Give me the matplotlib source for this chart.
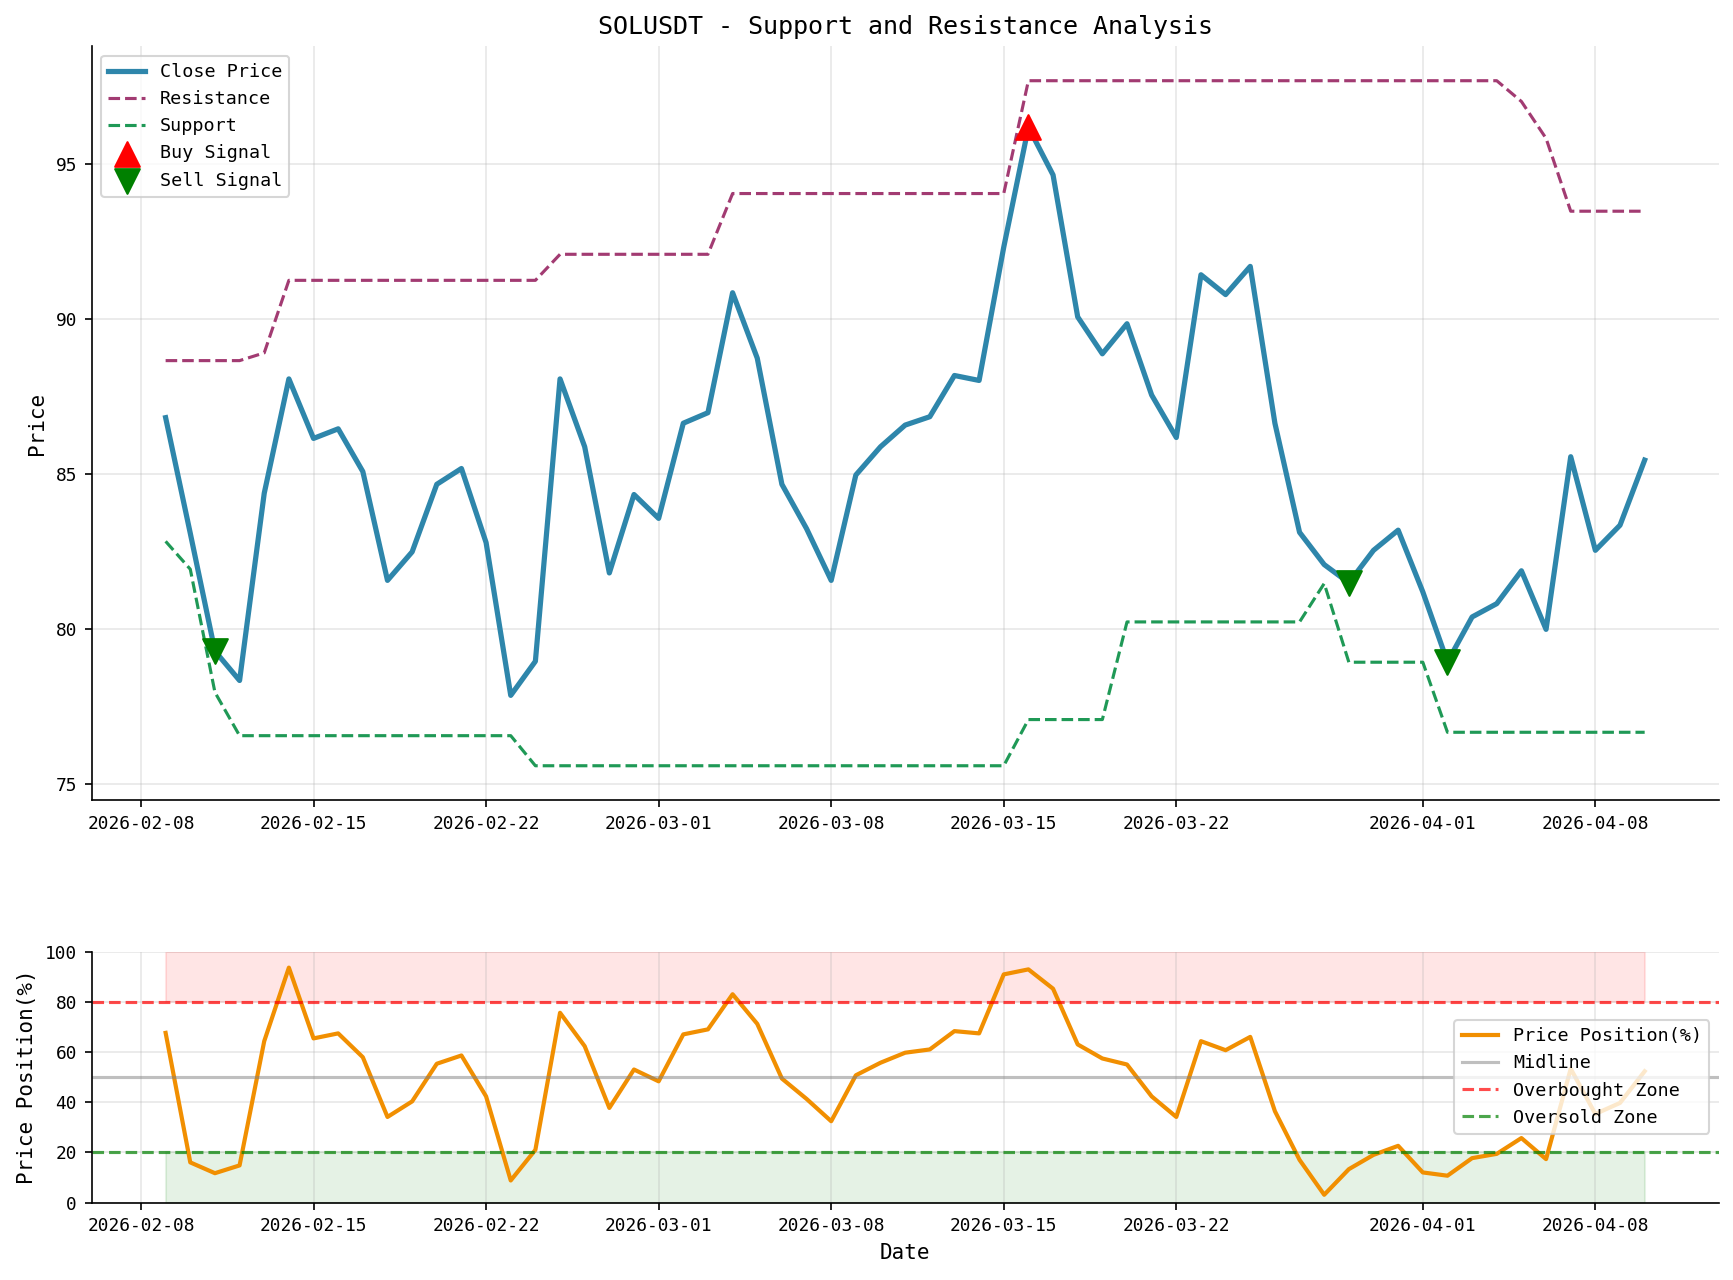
import pandas as pd
import matplotlib.pyplot as plt

plt.rcParams['font.family'] = ['DejaVu Sans Mono']

# Dados (61 dias, 2026-02-09 a 2026-04-10)
dates = pd.date_range('2026-02-09', '2026-04-10', freq='D')

close = [86.83, 83.10, 79.30, 78.35, 84.39, 88.08, 86.16, 86.47, 85.09, 81.58,
         82.50, 84.68, 85.19, 82.80, 77.87, 78.97, 88.08, 85.89, 81.82, 84.35,
         83.58, 86.65, 86.99, 90.86, 88.75, 84.68, 83.25, 81.58, 84.98, 85.89,
         86.59, 86.86, 88.19, 88.03, 92.33, 96.20, 94.66, 90.08, 88.89, 89.86,
         87.56, 86.19, 91.44, 90.80, 91.71, 86.65, 83.13, 82.09, 81.50, 82.55,
         83.20, 81.21, 78.95, 80.40, 80.83, 81.89, 80.00, 85.57, 82.55, 83.36,
         85.46]

resistance = [88.67, 88.67, 88.67, 88.67, 88.92, 91.26, 91.26, 91.26, 91.26, 91.26,
              91.26, 91.26, 91.26, 91.26, 91.26, 91.26, 92.10, 92.10, 92.10, 92.10,
              92.10, 92.10, 92.10, 94.06, 94.06, 94.06, 94.06, 94.06, 94.06, 94.06,
              94.06, 94.06, 94.06, 94.06, 94.06, 97.70, 97.70, 97.70, 97.70, 97.70,
              97.70, 97.70, 97.70, 97.70, 97.70, 97.70, 97.70, 97.70, 97.70, 97.70,
              97.70, 97.70, 97.70, 97.70, 97.70, 97.03, 95.84, 93.49, 93.49, 93.49,
              93.49]

support = [82.84, 81.94, 77.97, 76.57, 76.57, 76.57, 76.57, 76.57, 76.57, 76.57,
           76.57, 76.57, 76.57, 76.57, 76.57, 75.60, 75.60, 75.60, 75.60, 75.60,
           75.60, 75.60, 75.60, 75.60, 75.60, 75.60, 75.60, 75.60, 75.60, 75.60,
           75.60, 75.60, 75.60, 75.60, 75.60, 77.09, 77.09, 77.09, 77.09, 80.24,
           80.24, 80.24, 80.24, 80.24, 80.24, 80.24, 80.24, 81.48, 78.94, 78.94,
           78.94, 78.94, 76.68, 76.68, 76.68, 76.68, 76.68, 76.68, 76.68, 76.68,
           76.68]

position = [67.6, 16.0, 11.7, 14.8, 64.3, 93.6, 65.4, 67.4, 57.9, 34.1,
            40.3, 55.3, 58.6, 42.3, 8.8, 21.0, 75.6, 62.3, 37.7, 53.0,
            48.3, 67.0, 69.0, 83.0, 71.2, 49.4, 41.3, 32.4, 50.7, 55.7,
            59.7, 61.0, 68.3, 67.4, 90.9, 92.9, 85.2, 63.0, 57.4, 55.0,
            42.3, 34.1, 64.3, 60.7, 66.0, 36.4, 17.0, 3.1, 13.3, 19.0,
            22.6, 12.0, 10.7, 17.7, 19.4, 25.7, 17.3, 53.3, 35.3, 39.7,
            52.3]

buy_dates = pd.to_datetime(['2026-03-16'])
buy_prices = [96.20]
sell_dates = pd.to_datetime(['2026-02-11', '2026-03-29', '2026-04-02'])
sell_prices = [79.30, 81.50, 78.95]

fig = plt.figure(figsize=(1733 / 150, 1280 / 150), dpi=150)
ax1 = fig.add_axes([0.0529, 0.375, 0.9388, 0.5887])
ax2 = fig.add_axes([0.0529, 0.0605, 0.9388, 0.1961])

# Gráfico de preço
ax1.plot(dates, close, color='#2E86AB', linewidth=2.5, label='Close Price')
ax1.plot(dates, resistance, color='#A23B72', linestyle='--', linewidth=1.5, label='Resistance')
ax1.plot(dates, support, color='#1F9956', linestyle='--', linewidth=1.5, label='Support')
ax1.scatter(buy_dates, buy_prices, marker='^', color='red', s=140, zorder=5, label='Buy Signal')
ax1.scatter(sell_dates, sell_prices, marker='v', color='green', s=140, zorder=5, label='Sell Signal')
ax1.set_title('SOLUSDT - Support and Resistance Analysis', fontsize=12)
ax1.set_ylabel('Price', fontsize=10)
ax1.legend(loc='upper left', fontsize=8.8)
ax1.grid(True, alpha=0.3)
ax1.tick_params(labelsize=8.6)
ax1.spines['top'].set_visible(False)
ax1.spines['right'].set_visible(False)

# Posição do preço
ax2.plot(dates, position, color='#F18F01', linewidth=2, label='Price Position(%)')
ax2.axhline(50, color='gray', alpha=0.5, linewidth=1.5, label='Midline')
ax2.axhline(80, color='red', linestyle='--', alpha=0.7, linewidth=1.5, label='Overbought Zone')
ax2.axhline(20, color='green', linestyle='--', alpha=0.7, linewidth=1.5, label='Oversold Zone')
ax2.fill_between(dates, 80, 100, color='red', alpha=0.1)
ax2.fill_between(dates, 0, 20, color='green', alpha=0.1)
ax2.set_ylim(0, 100)
ax2.set_xlim(ax1.get_xlim())
ax2.set_ylabel('Price Position(%)', fontsize=10)
ax2.set_xlabel('Date', fontsize=10)
ax2.legend(loc='center right', fontsize=8.8)
ax2.grid(True, alpha=0.3)
ax2.tick_params(labelsize=8.6)
ax2.spines['top'].set_visible(False)
ax2.spines['right'].set_visible(False)

fig.savefig('out.png', dpi=150)
